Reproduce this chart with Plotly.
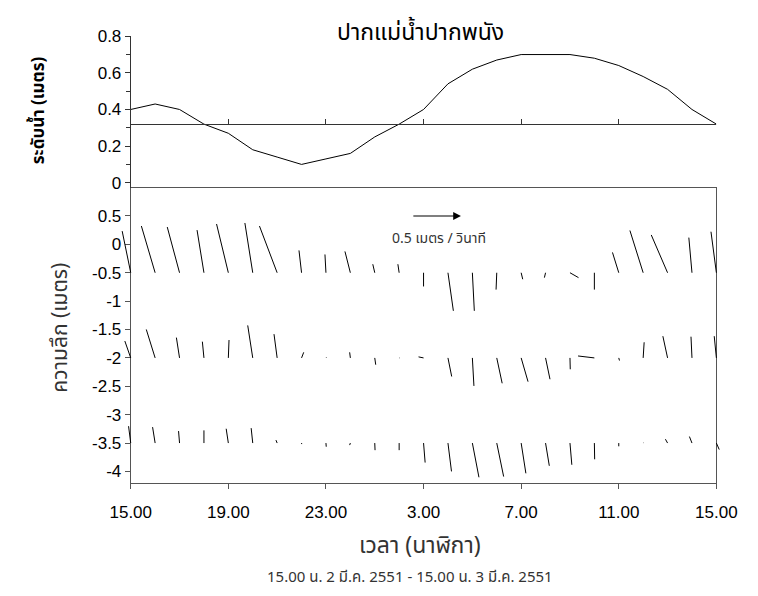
import plotly.graph_objects as go

# ---------------- data ----------------
hours = list(range(25))  # 15.00 on 2 Mar 2551 -> 15.00 on 3 Mar 2551
tick_hours = [0, 4, 8, 12, 16, 20, 24]
tick_labels = ["15.00", "19.00", "23.00", "3.00", "7.00", "11.00", "15.00"]

water_level = [0.40, 0.43, 0.40, 0.32, 0.27, 0.18, 0.14, 0.10, 0.13, 0.16, 0.25, 0.32,
               0.40, 0.54, 0.62, 0.67, 0.70, 0.70, 0.70, 0.68, 0.64, 0.58, 0.51, 0.40, 0.32]
mean_level = 0.32

depths = [-0.5, -2.0, -3.5]

# east (u) and north (v) velocity components, m/s
u_05 = [-0.087, -0.14, -0.125, -0.07, -0.12, -0.08, -0.18, -0.026, -0.01, -0.055, -0.02, -0.013,
        0.0, 0.055, 0.02, -0.007, 0.016, -0.012, 0.087, 0.0, -0.064, -0.135, -0.166, -0.032, -0.055]
v_05 = [0.41, 0.46, 0.45, 0.42, 0.48, 0.49, 0.46, 0.22, 0.18, 0.21, 0.084, 0.084,
        -0.135, -0.375, -0.375, -0.166, -0.064, -0.048, -0.048, -0.166, 0.20, 0.416, 0.372, 0.346, 0.404]

u_20 = [-0.06, -0.09, -0.032, -0.016, 0.007, -0.051, -0.032, 0.022, 0.005, -0.007, 0.01, 0.004,
        -0.051, 0.038, 0.016, 0.055, 0.07, 0.045, 0.003, -0.166, 0.007, 0.01, -0.048, -0.01, -0.022]
v_20 = [0.166, 0.28, 0.20, 0.16, 0.176, 0.32, 0.234, 0.055, 0.005, 0.055, -0.067, 0.0,
        0.01, -0.183, -0.276, -0.25, -0.234, -0.21, -0.112, 0.019, -0.026, 0.154, 0.214, 0.209, 0.214]

u_35 = [-0.022, -0.026, -0.01, 0.0, -0.022, -0.016, -0.012, 0.002, 0.003, -0.007, 0.003, 0.0,
        0.016, 0.036, 0.067, 0.07, 0.048, 0.038, 0.019, 0.003, 0.0, 0.003, -0.022, -0.026, 0.029]
v_35 = [0.166, 0.157, 0.118, 0.125, 0.141, 0.147, 0.029, -0.01, -0.036, -0.02, -0.07, -0.07,
        -0.192, -0.279, -0.337, -0.33, -0.298, -0.224, -0.214, -0.16, -0.032, 0.003, 0.038, 0.064, -0.064]

ref_speed = 0.5  # m/s, reference arrow

# ---------------- geometry (pixels of the photographed page) ----------------
W, H = 758, 596
OFF = 8                        # default page margin around the figure
X0, X1 = 115.7, 735.7          # pixel of first / last hour
BOT_T, BOT_B = 182.7, 485.0    # bottom panel box
TOP_T, TOP_B = 27.7, 177.7     # top panel: 0.8 .. 0
bot_range = [-4.2, 1.0]
top_range = [0.0, 0.8]
PX_PER_MS = 104.0              # pixel length of 1 m/s

def fx(px):
    return (px - OFF) / W

def fy(py):
    return (H - (py - OFF)) / H

px_per_hour = (X1 - X0) / 24.0
px_per_m = (BOT_B - BOT_T) / (bot_range[1] - bot_range[0])
kx = PX_PER_MS / px_per_hour
ky = PX_PER_MS / px_per_m

# top panel axis reaches down to the box top
top_px_per_unit = (TOP_B - TOP_T) / (top_range[1] - top_range[0])
top_lo = top_range[0] - (BOT_T - TOP_B) / top_px_per_unit

# stick segments
sx, sy = [], []
for d, uu, vv in [(depths[0], u_05, v_05), (depths[1], u_20, v_20), (depths[2], u_35, v_35)]:
    for h, a, b in zip(hours, uu, vv):
        sx += [h, h + a * kx, None]
        sy += [d, d + b * ky, None]

pad_h = 0.8
pad_px = pad_h * px_per_hour

LINE = "#555555"
TICKFONT = dict(family="Liberation Sans, Arial, sans-serif", size=17, color="#000")
THAI = "Tahoma, 'Noto Sans Thai', 'Leelawadee UI', 'Liberation Sans', sans-serif"

fig = go.Figure()

fig.add_trace(go.Scatter(x=hours, y=water_level, mode="lines",
                         line=dict(color="#000", width=1), xaxis="x2", yaxis="y2",
                         showlegend=False, hoverinfo="skip"))

fig.add_trace(go.Scatter(x=sx, y=sy, mode="lines", line=dict(color="#000", width=1),
                         xaxis="x3", yaxis="y3", showlegend=False, hoverinfo="skip"))

fig.add_trace(go.Scatter(x=[None], y=[None], xaxis="x", yaxis="y", showlegend=False))

dom_x = [fx(X0), fx(X1)]
dom_bot = [fy(BOT_B), fy(BOT_T)]
dom_top = [fy(BOT_T), fy(TOP_T)]
mean_pos = fy(TOP_B - (mean_level - top_range[0]) * top_px_per_unit)

bot_ticks = [0.5, 0, -0.5, -1, -1.5, -2, -2.5, -3, -3.5, -4]
bot_ticktext = [("%g" % t) for t in bot_ticks]

fig.update_layout(
    width=W, height=H, autosize=False,
    margin=dict(l=0, r=0, t=0, b=0),
    paper_bgcolor="white", plot_bgcolor="rgba(0,0,0,0)",
    xaxis=dict(domain=dom_x, range=[0, 24], anchor="y", showline=True, linecolor=LINE,
               linewidth=1, mirror=True, ticks="outside", ticklen=5, tickcolor=LINE,
               tickvals=tick_hours, ticktext=tick_labels, tickfont=TICKFONT,
               ticklabelstandoff=9, showgrid=False, zeroline=False),
    yaxis=dict(domain=dom_bot, range=bot_range, anchor="x", showline=True, linecolor=LINE,
               linewidth=1, mirror=True, ticks="outside", ticklen=5, tickcolor=LINE,
               tickvals=bot_ticks, ticktext=bot_ticktext, tickfont=TICKFONT,
               showgrid=False, zeroline=False),
    xaxis2=dict(domain=dom_x, range=[0, 24], anchor="free", position=mean_pos,
                showline=True, linecolor="#333", linewidth=1, ticks="inside", ticklen=5,
                tickcolor="#333", tickvals=tick_hours, showticklabels=False,
                showgrid=False, zeroline=False),
    yaxis2=dict(domain=dom_top, range=[top_lo, top_range[1]], anchor="x2", showline=True,
                linecolor="#333", linewidth=1, ticks="outside", ticklen=5, tickcolor="#333",
                tickvals=[0, 0.2, 0.4, 0.6, 0.8],
                minor=dict(tickvals=[0.1, 0.3, 0.5, 0.7], ticks="outside", ticklen=4,
                           tickcolor="#333"),
                tickfont=TICKFONT, showgrid=False, zeroline=False),
    xaxis3=dict(domain=[fx(X0 - pad_px), fx(X1 + pad_px)], range=[-pad_h, 24 + pad_h],
                anchor="y3", visible=False, showgrid=False, zeroline=False),
    yaxis3=dict(domain=dom_bot, range=bot_range, anchor="x3", visible=False,
                showgrid=False, zeroline=False),
)

def label(text, px, py, size, color="#333", angle=0):
    return dict(text=text, x=fx(px), y=fy(py), xref="paper", yref="paper",
                xanchor="center", yanchor="middle", textangle=angle, showarrow=False,
                font=dict(family=THAI, size=size, color=color))

ann = [
    label("ปากแม่น้ำปากพนัง", 422, 24, 23, "#000"),
    label("<b>ระดับน้ำ (เมตร)</b>", 18, 103, 17, "#000", -90),
    label("ความลึก (เมตร)", 41, 326, 21, "#333", -90),
    label("เวลา (นาฬิกา)", 422, 550, 23, "#333"),
    label("15.00 น. 2 มี.ค. 2551 - 15.00 น. 3 มี.ค. 2551", 411, 582, 15, "#333"),
]
arr_x0 = 11.52
ann.append(dict(x=arr_x0 + ref_speed * kx, y=0.5, ax=arr_x0, ay=0.5, xref="x", yref="y",
                axref="x", ayref="y", showarrow=True, arrowhead=2, arrowsize=1.3,
                arrowwidth=1.2, arrowcolor="#000", text=""))
ann.append(dict(text="0.5 เมตร / วินาที", x=12.63, y=0.10, xref="x", yref="y", showarrow=False,
                xanchor="center", yanchor="middle",
                font=dict(family=THAI, size=14, color="#333")))
fig.update_layout(annotations=ann)

fig.write_html("out.html")
